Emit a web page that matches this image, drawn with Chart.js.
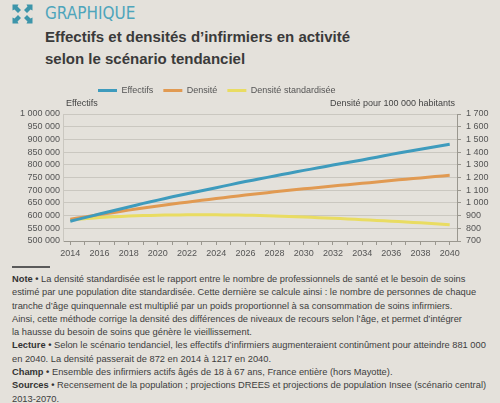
<!DOCTYPE html>
<html lang="fr">
<head>
<meta charset="utf-8">
<script src="https://cdn.jsdelivr.net/npm/chart.js@4.4.1/dist/chart.umd.min.js"></script>
<style>
  html, body { margin: 0; padding: 0; }
  body {
    width: 500px;
    height: 403px;
    background: #e4e1db;
    position: relative;
    overflow: hidden;
    font-family: "Liberation Sans", Arial, sans-serif;
    color: #3a3a3a;
  }
  .icon { position: absolute; left: 11px; top: 3px; }
  .kicker {
    position: absolute; left: 45px; top: 3px;
    font-family: "Liberation Sans Narrow", "DejaVu Sans Condensed", sans-serif;
    font-size: 17px; line-height: 20px; color: #4ea5bb;
  }
  .title {
    position: absolute; left: 45px; top: 26px;
    font-weight: bold; font-size: 15px; line-height: 22px; color: #3a3a3a;
  }
  .chart-box { position: absolute; left: 0; top: 76px; width: 500px; height: 190px; }
  .rule { position: absolute; left: 12px; top: 266px; width: 38px; height: 2px; background: #5a5a5a; }
  .notes {
    position: absolute; left: 12px; top: 273px;
    font-size: 9.3px; line-height: 13.3px; white-space: nowrap; color: #3d3d3d;
  }
  .notes b { color: #333; }
</style>
</head>
<body>
<svg class="icon" width="23" height="22" viewBox="0 0 23 22">
  <g fill="#3d95aa">
    <path d="M1 1 L7 1 L6 3 L9.5 6.5 L6.5 9.5 L3 6 L1 7 Z" transform="translate(0.5,0.5)"/>
    <path d="M22 1 L16 1 L17 3 L13.5 6.5 L16.5 9.5 L20 6 L22 7 Z" transform="translate(-0.5,0.5)"/>
    <path d="M1 21 L7 21 L6 19 L9.5 15.5 L6.5 12.5 L3 16 L1 15 Z" transform="translate(0.5,-0.5)"/>
    <path d="M22 21 L16 21 L17 19 L13.5 15.5 L16.5 12.5 L20 16 L22 15 Z" transform="translate(-0.5,-0.5)"/>
  </g>
</svg>
<div class="kicker">GRAPHIQUE</div>
<div class="title">Effectifs et densités d’infirmiers en activité<br>selon le scénario tendanciel</div>

<div class="chart-box"><canvas id="chart"></canvas></div>

<div class="rule"></div>
<div class="notes">
<b>Note •</b> La densité standardisée est le rapport entre le nombre de professionnels de santé et le besoin de soins<br>
estimé par une population dite standardisée. Cette dernière se calcule ainsi : le nombre de personnes de chaque<br>
tranche d’âge quinquennale est multiplié par un poids proportionnel à sa consommation de soins infirmiers.<br>
Ainsi, cette méthode corrige la densité des différences de niveaux de recours selon l’âge, et permet d’intégrer<br>
la hausse du besoin de soins que génère le vieillissement.<br>
<b>Lecture •</b> Selon le scénario tendanciel, les effectifs d’infirmiers augmenteraient continûment pour atteindre 881 000<br>
en 2040. La densité passerait de 872 en 2014 à 1217 en 2040.<br>
<b>Champ •</b> Ensemble des infirmiers actifs âgés de 18 à 67 ans, France entière (hors Mayotte).<br>
<b>Sources •</b> Recensement de la population ; projections DREES et projections de population Insee (scénario central)<br>
2013-2070.
</div>

<script>
  const years = ["2014", "2015", "2016", "2017", "2018", "2019", "2020", "2021", "2022",
    "2023", "2024", "2025", "2026", "2027", "2028", "2029", "2030", "2031", "2032",
    "2033", "2034", "2035", "2036", "2037", "2038", "2039", "2040"];

  // effectifs d'infirmiers (axe gauche)
  const effectifs = [578000, 592000, 606000, 620000, 634000, 648000, 661000, 674000, 686000,
    698000, 710000, 722000, 734000, 745000, 756000, 767000, 778000, 788000, 799000,
    809000, 819000, 830000, 841000, 851000, 861000, 871000, 881000];

  // densités pour 100 000 habitants (axe droit)
  const densite = [872, 890, 908, 925, 943, 960, 976, 992, 1006, 1020, 1034, 1048, 1062,
    1074, 1087, 1099, 1111, 1121, 1133, 1143, 1154, 1165, 1177, 1187, 1197, 1207, 1217];
  const densiteStd = [866, 876, 885, 891, 896, 900, 903, 905, 906, 906, 906, 905, 903,
    901, 897, 893, 889, 884, 879, 874, 868, 862, 856, 850, 843, 836, 828];

  const leftTicks = { min: 500000, max: 1000000, step: 50000 };
  const rightTicks = { min: 700, max: 1700, step: 100 };

  const fmt = (v) => String(v).replace(/\B(?=(\d{3})+(?!\d))/g, " ");

  Chart.defaults.font.family = "'Liberation Sans', Arial, sans-serif";
  Chart.defaults.font.size = 9;
  Chart.defaults.color = "#555";

  // legend sits left of centre in the original, and the axis titles are horizontal
  const layoutTweaks = {
    id: "layoutTweaks",
    afterLayout(chart) {
      const lg = chart.legend;
      const h = lg.bottom - lg.top;
      lg.left = 88;
      lg.right = 500;
      lg.top = 0;
      lg.bottom = h;
    },
    afterDraw(chart) {
      const { ctx, chartArea } = chart;
      ctx.save();
      ctx.font = "9px 'Liberation Sans', Arial, sans-serif";
      ctx.fillStyle = "#444";
      ctx.textBaseline = "middle";
      ctx.textAlign = "left";
      ctx.fillText("Effectifs", chartArea.left + 3, chartArea.top - 10);
      ctx.textAlign = "right";
      ctx.fillText("Densité pour 100 000 habitants", chartArea.right - 2, chartArea.top - 10);
      ctx.restore();
    },
  };

  new Chart(document.getElementById("chart"), {
    type: "line",
    data: {
      labels: years,
      datasets: [
        {
          label: "Effectifs",
          data: effectifs,
          yAxisID: "y",
          borderColor: "#3e9bbd",
          backgroundColor: "#3e9bbd",
        },
        {
          label: "Densité",
          data: densite,
          yAxisID: "y2",
          borderColor: "#e19a52",
          backgroundColor: "#e19a52",
        },
        {
          label: "Densité standardisée",
          data: densiteStd,
          yAxisID: "y2",
          borderColor: "#e9dc62",
          backgroundColor: "#e9dc62",
        },
      ],
    },
    options: {
      responsive: true,
      maintainAspectRatio: false,
      animation: false,
      layout: { padding: { top: 9 } },
      elements: {
        line: { borderWidth: 3, tension: 0.3 },
        point: { radius: 0 },
      },
      plugins: {
        legend: {
          position: "top",
          align: "start",
          labels: {
            boxWidth: 19,
            boxHeight: 3,
            padding: 10,
            color: "#555",
            generateLabels(chart) {
              return Chart.defaults.plugins.legend.labels
                .generateLabels(chart)
                .map((item) => ({ ...item, lineWidth: 0 }));
            },
          },
        },
        tooltip: { enabled: false },
      },
      scales: {
        x: {
          type: "category",
          offset: true,
          grid: { display: true, drawOnChartArea: false, tickLength: 4, color: "#9a978f" },
          border: { display: true, color: "#9a978f" },
          ticks: {
            autoSkip: false,
            maxRotation: 0,
            padding: 3,
            color: "#555",
            callback(v, i) {
              return i % 2 === 0 ? this.getLabelForValue(v) : "";
            },
          },
          afterFit(scale) { scale.height = 25; },
        },
        y: {
          position: "left",
          min: leftTicks.min,
          max: leftTicks.max,
          grid: { color: "#cac7c0", lineWidth: 1, tickLength: 0 },
          border: { display: true, color: "#cac7c0" },
          ticks: {
            stepSize: leftTicks.step,
            autoSkip: false,
            padding: 3,
            color: "#555",
            callback: (v) => fmt(v),
          },
          afterFit(scale) { scale.width = 63; },
        },
        y2: {
          position: "right",
          min: rightTicks.min,
          max: rightTicks.max,
          grid: { drawOnChartArea: false, tickLength: 4, color: "#9a978f" },
          border: { display: true, color: "#9a978f" },
          ticks: {
            stepSize: rightTicks.step,
            autoSkip: false,
            padding: 5,
            color: "#555",
            callback: (v) => fmt(v),
          },
          afterFit(scale) { scale.width = 43; },
        },
      },
    },
    plugins: [layoutTweaks],
  });
</script>
</body>
</html>
